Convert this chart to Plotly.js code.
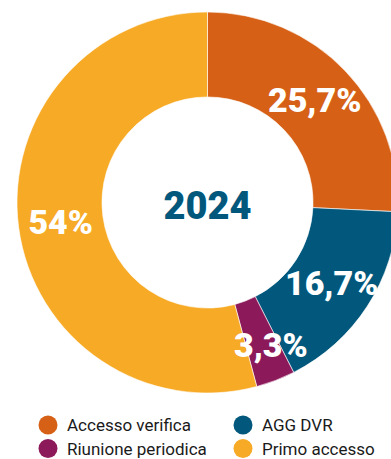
<!DOCTYPE html>
<html><head><meta charset="utf-8">
<script src="https://cdn.plot.ly/plotly-3.0.1.min.js"></script>
<style>html,body{margin:0;padding:0;overflow:hidden;background:#fff;width:391px;height:459px}</style>
</head><body><div id="chart" style="width:414px;height:459px"></div>
<script>
const categories = ['Accesso verifica', 'AGG DVR', 'Riunione periodica', 'Primo accesso'];
const values = [25.7, 16.7, 3.3, 54];
const valueLabels = values.map(v => String(v).replace('.', ',') + '%');
const centerLabel = '2024';
const colors = ['#D66116', '#02587C', '#8C1A5B', '#F6AA25'];

const W = 414, H = 459;
const M = {l: 17, r: 16, t: 12, b: 66};
const plotW = W - M.l - M.r, plotH = H - M.t - M.b;
const px2x = x => (x - M.l) / plotW;
const px2y = y => (H - M.b - y) / plotH;
const HOLE = 0.554;
const labelFont = {family: 'Roboto', size: 34, weight: 900, color: '#ffffff'};

// slices too thin for Plotly's inside text get their label as an annotation placed
// at the slice's mid-angle on the middle of the ring (computed from the values)
const total = values.reduce((a, b) => a + b, 0);
const R = Math.min(plotW, plotH) / 2;
const rMid = R * (1 + HOLE) / 2;
const SMALL = 0.05;
const shapes = [], annotations = [];
let cum = 0;
const templates = values.map((v, i) => {
  const frac = v / total;
  const mid = (cum + frac / 2) * 2 * Math.PI;
  cum += frac;
  if (frac >= SMALL) return '%{text}';
  annotations.push({xref: 'paper', yref: 'paper',
    x: 0.5 + rMid * Math.sin(mid) / plotW, y: 0.5 + rMid * Math.cos(mid) / plotH,
    xshift: 11, yshift: -4, xanchor: 'center', yanchor: 'middle', showarrow: false,
    text: valueLabels[i], font: labelFont});
  return '';
});

const legendCols = [48, 243];
const legendRows = [425, 448.5];
categories.forEach((c, i) => {
  const cx = legendCols[i % 2], cy = legendRows[Math.floor(i / 2)];
  shapes.push({type: 'circle', xref: 'paper', yref: 'paper', xsizemode: 'pixel', ysizemode: 'pixel',
    xanchor: px2x(cx), yanchor: px2y(cy), x0: -9.5, x1: 9.5, y0: -9.5, y1: 9.5,
    fillcolor: colors[i], line: {width: 0}});
  annotations.push({xref: 'paper', yref: 'paper', x: px2x(cx + 17), y: px2y(cy), xanchor: 'left', yanchor: 'middle',
    text: c, showarrow: false, font: {family: 'Roboto', size: 17, color: '#1a1a1a'}});
});

const data = [{
  type: 'pie', values: values, labels: categories, text: valueLabels, texttemplate: templates, textinfo: 'text',
  sort: false, direction: 'clockwise', rotation: 0, hole: HOLE,
  marker: {colors: colors, line: {color: '#ffffff', width: 0.6}},
  textposition: 'inside', insidetextorientation: 'horizontal',
  textfont: labelFont,
  hoverinfo: 'none', showlegend: false,
  title: {text: centerLabel, position: 'middle center', font: {family: 'Roboto', size: 38, weight: 900, color: '#02587C'}}
}];

const layout = {
  width: W, height: H, margin: {l: M.l, r: M.r, t: M.t, b: M.b, pad: 0},
  showlegend: false, paper_bgcolor: '#ffffff', plot_bgcolor: '#ffffff',
  uniformtext: {mode: 'show', minsize: 34},
  shapes: shapes, annotations: annotations
};
Plotly.newPlot('chart', data, layout, {staticPlot: true, displayModeBar: false});
</script></body></html>
